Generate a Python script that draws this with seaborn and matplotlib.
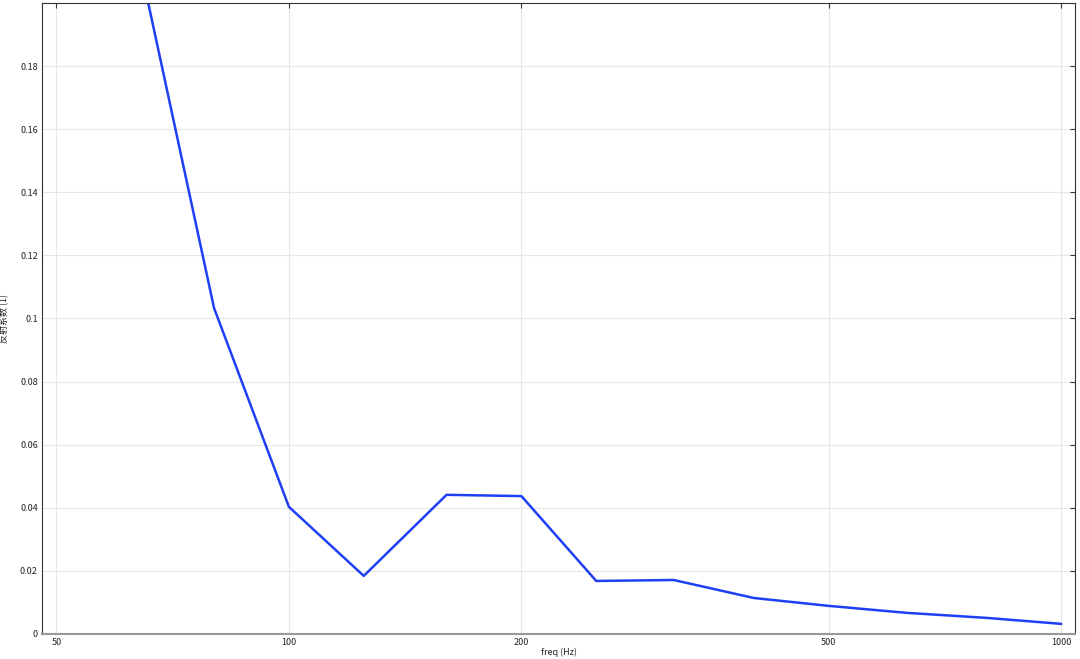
import numpy as np
import pandas as pd
import matplotlib
matplotlib.use("Agg")
import matplotlib.pyplot as plt
from matplotlib.ticker import FixedLocator, NullLocator, FixedFormatter
import seaborn as sns

# reflection coefficient vs. 1/3 octave frequency
freq = [63, 80, 100, 125, 160, 200, 250, 315, 400, 500, 630, 800, 1000]
refl = [0.221, 0.1033, 0.0403, 0.0184, 0.0441, 0.0437, 0.0168, 0.0171,
        0.0114, 0.0089, 0.0067, 0.0051, 0.0032]

x_ticks = [50, 100, 200, 500, 1000]
y_ticks = [0, 0.02, 0.04, 0.06, 0.08, 0.1, 0.12, 0.14, 0.16, 0.18]
y_labels = ["0", "0.02", "0.04", "0.06", "0.08", "0.1", "0.12", "0.14", "0.16", "0.18"]

df = pd.DataFrame({"freq": freq, "refl": refl})

sns.set_style("white")
plt.rcParams["font.family"] = ["Noto Sans CJK SC", "DejaVu Sans"]

fig = plt.figure(figsize=(10.8, 6.59), dpi=100)
ax = fig.add_axes([0.0389, 0.038, 0.9565, 0.9575])

sns.lineplot(data=df, x="freq", y="refl", ax=ax, color="#1f3ff5", linewidth=1.8)

ax.set_xscale("log")
ax.set_xlim(47.9, 1042)
ax.set_ylim(0, 0.2)

ax.xaxis.set_major_locator(FixedLocator(x_ticks))
ax.xaxis.set_major_formatter(FixedFormatter([str(t) for t in x_ticks]))
ax.xaxis.set_minor_locator(NullLocator())
ax.yaxis.set_major_locator(FixedLocator(y_ticks))
ax.yaxis.set_major_formatter(FixedFormatter(y_labels))

ax.grid(True, color="#e6e6e6", linewidth=0.8)
ax.tick_params(axis="both", which="major", labelsize=6.5, direction="in",
               length=3.5, width=0.8, color="#333333", labelcolor="#222222",
               top=True, right=True, pad=3)

for side in ["left", "top", "right"]:
    ax.spines[side].set_color("#333333")
    ax.spines[side].set_linewidth(0.8)
ax.spines["bottom"].set_color("#999999")
ax.spines["bottom"].set_linewidth(1.5)

ax.set_xlabel("freq (Hz)", fontsize=6.5, color="#222222")
ax.set_ylabel("反射系数 (1)", fontsize=6.5, color="#222222")
ax.xaxis.set_label_coords(0.5, -0.022)
ax.yaxis.set_label_coords(-0.033, 0.5)

fig.savefig("out.png", dpi=100)
